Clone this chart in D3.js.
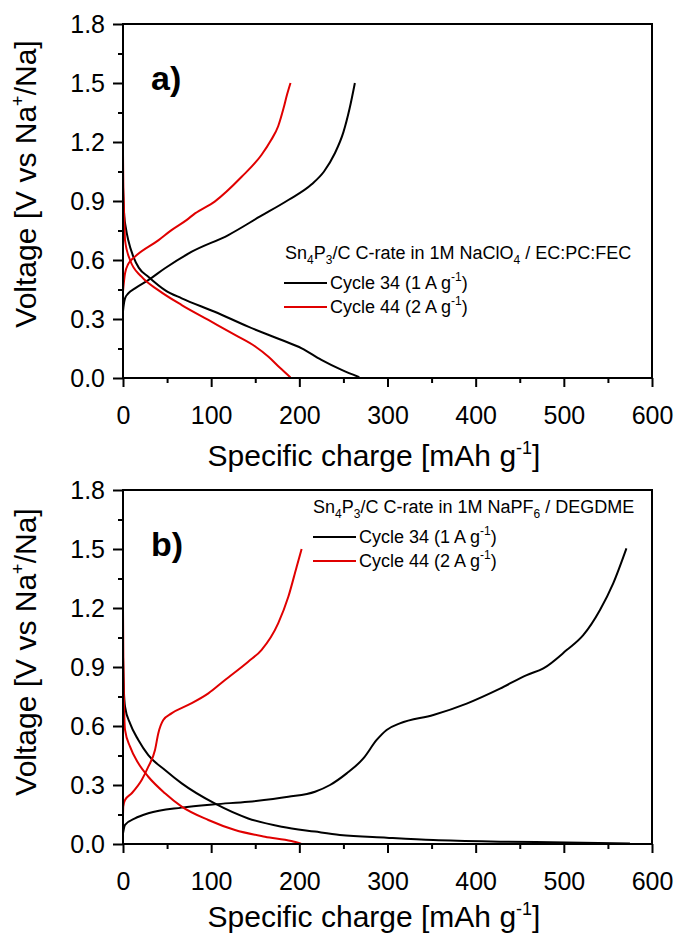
<!DOCTYPE html>
<html>
<head>
<meta charset="utf-8">
<script src="https://cdn.jsdelivr.net/npm/d3@7"></script>
<style>
  body { margin: 0; background: #fff; }
  svg { display: block; font-family: "Liberation Sans", Arial, sans-serif; }
</style>
</head>
<body>
<div id="chart"></div>
<script>
// axis ticks
const xTicks = [0, 100, 200, 300, 400, 500, 600];
const xMinor = [50, 150, 250, 350, 450, 550];
const yTicks = [0, 0.3, 0.6, 0.9, 1.2, 1.5, 1.8];
const yMinor = [0.15, 0.45, 0.75, 1.05, 1.35, 1.65];

// panel a) NaClO4 / EC:PC:FEC   [specific charge, voltage]
const a34Discharge = [[0,0.97],[0.5,0.9],[1.5,0.82],[3,0.77],[6,0.70],[11.7,0.617],[18,0.56],[28.7,0.515],[47.6,0.447],[66.6,0.405],[104,0.337],[142,0.261],[180,0.193],[202.7,0.151],[225,0.092],[248,0.041],[268,0.004]];
const a34Charge = [[0,0.34],[0.5,0.36],[2.3,0.405],[6,0.43],[13.6,0.456],[28.7,0.498],[47.6,0.558],[78,0.642],[119.5,0.727],[155,0.82],[187.5,0.905],[214,0.985],[228,1.05],[240,1.14],[250,1.25],[257,1.37],[263,1.5]];
const a44Discharge = [[0,1.14],[0.3,1.0],[0.8,0.9],[1.5,0.8],[2.3,0.70],[8,0.60],[21,0.515],[40,0.447],[66.6,0.371],[96.8,0.295],[127,0.219],[150,0.16],[165,0.108],[178,0.052],[190,0.003]];
const a44Charge = [[0,0.44],[0.5,0.464],[2.3,0.532],[6,0.58],[13.6,0.617],[40,0.70],[55,0.752],[72,0.803],[81.7,0.837],[104,0.897],[134.6,1.023],[157,1.134],[168,1.21],[176,1.28],[182,1.37],[186,1.44],[190,1.5]];

// panel b) NaPF6 / DEGDME
const b34Discharge = [[0,0.95],[0.5,0.85],[1,0.78],[2.3,0.698],[8,0.613],[17.4,0.529],[28.7,0.452],[47.6,0.376],[66.6,0.308],[104,0.206],[142,0.13],[180,0.088],[217.8,0.063],[246,0.046],[299,0.032],[352,0.02],[427.6,0.012],[503,0.008],[575,0.002]];
const b34Charge = [[0,0.054],[2.3,0.097],[13.6,0.13],[28.7,0.156],[66.6,0.185],[104,0.202],[142,0.215],[187.5,0.24],[217.8,0.266],[234.8,0.30],[253.7,0.359],[272.6,0.435],[287.7,0.529],[299,0.58],[314,0.613],[352,0.656],[389.8,0.714],[427.6,0.79],[457.9,0.859],[476.8,0.893],[503.2,0.986],[522,1.062],[541,1.19],[556,1.325],[571,1.503]];
const b44Discharge = [[0,1.2],[0.4,0.95],[1,0.75],[2.3,0.58],[8,0.495],[17.4,0.41],[28.7,0.342],[47.6,0.258],[66.6,0.19],[96.8,0.122],[127,0.071],[161,0.037],[191,0.015],[202,0.002]];
const b44Charge = [[0,0.14],[0.3,0.19],[2.3,0.224],[9.9,0.258],[21.2,0.325],[28.7,0.393],[36.3,0.478],[40,0.562],[45.7,0.63],[55,0.664],[74,0.707],[96.8,0.766],[115.7,0.834],[142,0.927],[157,0.986],[176,1.122],[187.5,1.257],[197,1.41],[202.6,1.5]];

const legendA = ["1M NaClO", "4", " / EC:PC:FEC"];
const legendB = ["1M NaPF", "6", " / DEGDME"];
const seriesNames = ["Cycle 34 (1 A g", "Cycle 44 (2 A g"];
const black = "#000", red = "#e00000";

const W = 678, H = 943;
const svg = d3.select("#chart").append("svg").attr("width", W).attr("height", H);
svg.append("rect").attr("width", W).attr("height", H).attr("fill", "#fff");

function panel(cfg) {
  const x = d3.scaleLinear().domain([0, 600]).range([123, 652]);
  const y = d3.scaleLinear().domain([0, 1.8]).range([cfg.bottom, cfg.top]);
  const g = svg.append("g");

  const line = d3.line().x(d => x(d[0])).y(d => y(d[1])).curve(d3.curveMonotoneX);
  cfg.curves.forEach(c => {
    g.append("path").datum(c.data)
      .attr("fill", "none").attr("stroke", c.color).attr("stroke-width", 2)
      .attr("d", line);
  });

  // box
  g.append("rect").attr("x", 123).attr("y", cfg.top)
    .attr("width", 652 - 123).attr("height", cfg.bottom - cfg.top)
    .attr("fill", "none").attr("stroke", "#000").attr("stroke-width", 2);

  // minor ticks
  g.append("g").attr("transform", `translate(0,${cfg.bottom})`)
    .call(d3.axisBottom(x).tickValues(xMinor).tickSize(5).tickFormat(""))
    .call(a => a.select(".domain").remove());
  g.append("g").attr("transform", "translate(123,0)")
    .call(d3.axisLeft(y).tickValues(yMinor).tickSize(5).tickFormat(""))
    .call(a => a.select(".domain").remove());

  const xa = g.append("g").attr("transform", `translate(0,${cfg.bottom})`)
    .call(d3.axisBottom(x).tickValues(xTicks).tickSize(9).tickPadding(19));
  const ya = g.append("g").attr("transform", "translate(123,0)")
    .call(d3.axisLeft(y).tickValues(yTicks).tickSize(10).tickPadding(8).tickFormat(d3.format(".1f")));
  [xa, ya].forEach(a => {
    a.select(".domain").remove();
    a.selectAll("text").attr("font-size", 25).attr("font-family", null).attr("fill", "#000");
  });
  g.selectAll(".tick line").attr("stroke", "#000").attr("stroke-width", 2);

  // axis titles
  const xt = g.append("text").attr("x", 374).attr("y", cfg.xTitleY)
    .attr("text-anchor", "middle").attr("font-size", 30);
  xt.append("tspan").text("Specific charge [mAh g");
  xt.append("tspan").attr("dy", -12).attr("font-size", 18).text("-1");
  xt.append("tspan").attr("dy", 12).text("]");

  const yt = g.append("text")
    .attr("transform", `translate(36,${cfg.yTitleY}) rotate(-90)`)
    .attr("text-anchor", "middle").attr("font-size", 30);
  yt.append("tspan").text("Voltage [V vs Na");
  yt.append("tspan").attr("dy", -12).attr("font-size", 18).text("+");
  yt.append("tspan").attr("dy", 12).text("/Na]");

  g.append("text").attr("x", 151).attr("y", cfg.top + 66)
    .attr("font-size", 34).attr("font-weight", "bold").text(cfg.label);

  // legend
  const lg = g.append("g").attr("font-size", 18);
  const t = lg.append("text").attr("x", cfg.legX).attr("y", cfg.legY);
  t.append("tspan").text("Sn");
  t.append("tspan").attr("dy", 5).attr("font-size", 12).text("4");
  t.append("tspan").attr("dy", -5).text("P");
  t.append("tspan").attr("dy", 5).attr("font-size", 12).text("3");
  t.append("tspan").attr("dy", -5).text("/C C-rate in " + cfg.legend[0]);
  t.append("tspan").attr("dy", 5).attr("font-size", 12).text(cfg.legend[1]);
  t.append("tspan").attr("dy", -5).text(cfg.legend[2]);

  [black, red].forEach((col, i) => {
    const ly = cfg.legY + 24 + i * 24;
    lg.append("line").attr("x1", cfg.lineX).attr("x2", cfg.lineX + 43)
      .attr("y1", ly).attr("y2", ly).attr("stroke", col).attr("stroke-width", 2);
    const tt = lg.append("text").attr("x", cfg.lineX + 46).attr("y", ly + 6);
    tt.append("tspan").text(seriesNames[i]);
    tt.append("tspan").attr("dy", -8).attr("font-size", 12).text("-1");
    tt.append("tspan").attr("dy", 8).text(")");
  });
}

panel({
  top: 24, bottom: 378, label: "a)", xTitleY: 466, yTitleY: 184,
  legend: legendA, legX: 285, legY: 259, lineX: 284,
  curves: [
    {data: a34Discharge, color: black}, {data: a34Charge, color: black},
    {data: a44Discharge, color: red}, {data: a44Charge, color: red}
  ]
});
panel({
  top: 490, bottom: 844, label: "b)", xTitleY: 927, yTitleY: 652,
  legend: legendB, legX: 313, legY: 513, lineX: 313,
  curves: [
    {data: b34Discharge, color: black}, {data: b34Charge, color: black},
    {data: b44Discharge, color: red}, {data: b44Charge, color: red}
  ]
});
</script>
</body>
</html>
